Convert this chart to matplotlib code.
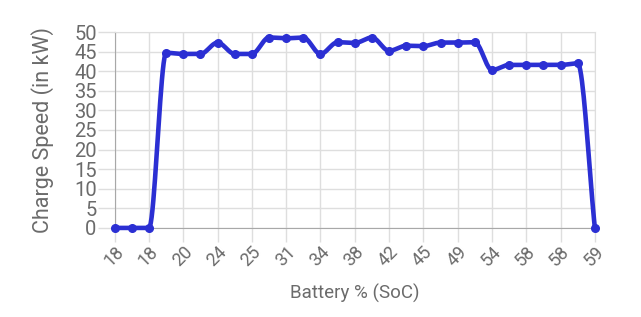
import numpy as np
import matplotlib
matplotlib.use('Agg')
import matplotlib.pyplot as plt

plt.rcParams['font.family'] = ['Roboto', 'DejaVu Sans']

# battery state of charge for each reading (only every other one is labelled)
soc_labels = ['18', '18', '18', '19', '20', '22', '24', '24', '25', '28',
              '31', '32', '34', '36', '38', '40', '42', '43', '45', '47',
              '49', '51', '54', '56', '58', '58', '58', '58', '59']
# charge speed in kW
speed_kw = [0, 0, 0, 44.7, 44.4, 44.4, 47.3, 44.4, 44.4, 48.6,
            48.4, 48.6, 44.4, 47.4, 47.2, 48.6, 45.2, 46.5, 46.4, 47.3,
            47.3, 47.4, 40.3, 41.6, 41.6, 41.6, 41.6, 42.0, 0]

LINE_COLOR = '#2b2fd3'
GRID_COLOR = '#dedede'
TEXT_COLOR = '#6b6b6b'


def monotone_curve(x, y, n=20):
    """monotone cubic (Fritsch-Carlson) path through the points, for drawing only"""
    x = np.asarray(x, float)
    y = np.asarray(y, float)
    h = np.diff(x)
    d = np.diff(y) / h
    m = np.zeros_like(y)
    m[0], m[-1] = d[0], d[-1]
    for i in range(1, len(y) - 1):
        if d[i - 1] * d[i] <= 0:
            m[i] = 0
        else:
            m[i] = (d[i - 1] + d[i]) / 2
    for i in range(len(d)):
        if d[i] == 0:
            m[i] = m[i + 1] = 0
            continue
        a, b = m[i] / d[i], m[i + 1] / d[i]
        s = a * a + b * b
        if s > 9:
            t = 3 / np.sqrt(s)
            m[i], m[i + 1] = t * a * d[i], t * b * d[i]
    xs, ys = [], []
    for i in range(len(d)):
        t = np.linspace(0, 1, n, endpoint=False)
        h00 = 2 * t**3 - 3 * t**2 + 1
        h10 = t**3 - 2 * t**2 + t
        h01 = -2 * t**3 + 3 * t**2
        h11 = t**3 - t**2
        xs.append(x[i] + t * h[i])
        ys.append(h00 * y[i] + h10 * h[i] * m[i] + h01 * y[i + 1] + h11 * h[i] * m[i + 1])
    xs.append([x[-1]])
    ys.append([y[-1]])
    return np.concatenate(xs), np.concatenate(ys)


fig = plt.figure(figsize=(6.41, 3.17), dpi=100)
ax = fig.add_axes([0.179, 0.281, 0.749, 0.618])

idx = np.arange(len(speed_kw))
cx, cy = monotone_curve(idx, speed_kw)
ax.plot(cx, cy, color=LINE_COLOR, lw=3.3, solid_capstyle='round', zorder=3, clip_on=False)
ax.plot(idx, speed_kw, 'o', color=LINE_COLOR, ms=5.5, zorder=4, clip_on=False)

ax.set_xlim(0, len(speed_kw) - 1)
ax.set_ylim(0, 50)
ax.set_yticks(np.arange(0, 51, 5))
ax.set_xticks(idx[::2])
ax.set_xticklabels(soc_labels[::2], rotation=45, ha='right', va='top',
                   rotation_mode='anchor')

ax.grid(True, color=GRID_COLOR, lw=1)
ax.set_axisbelow(True)
for side in ['top', 'right']:
    ax.spines[side].set_color(GRID_COLOR)
for side in ['left', 'bottom']:
    ax.spines[side].set_color('#a8a8a8')
ax.tick_params(axis='y', colors=GRID_COLOR, labelcolor=TEXT_COLOR,
               labelsize=14.5, length=12, width=1, pad=1)
ax.tick_params(axis='x', colors=GRID_COLOR, labelcolor=TEXT_COLOR,
               labelsize=13, length=10, width=1, pad=1)

ax.set_ylabel('Charge Speed (in kW)', color=TEXT_COLOR, fontsize=15.5)
ax.yaxis.set_label_coords(-0.127, 0.5)
ax.set_xlabel('Battery % (SoC)', color=TEXT_COLOR, fontsize=13.5)
ax.xaxis.set_label_coords(0.5, -0.285)

fig.savefig('out.png', dpi=100)
